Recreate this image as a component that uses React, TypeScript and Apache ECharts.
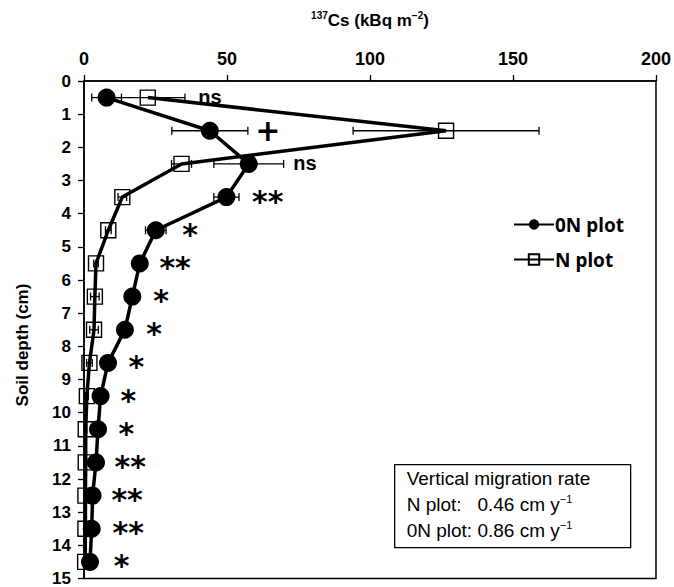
import React, { useEffect, useRef } from "react";
import * as echarts from "echarts";

const depths = [0.5, 1.5, 2.5, 3.5, 4.5, 5.5, 6.5, 7.5, 8.5, 9.5, 10.5, 11.5, 12.5, 13.5, 14.5];
const onValues = [7.9, 44, 57.6, 49.8, 25.1, 19.5, 16.9, 14.3, 8.4, 5.8, 4.9, 4.2, 3.0, 2.7, 2.1];
const onErrors = [5.2, 13.3, 12.2, 4.4, 3.6, 1.2, 1.0, 1.0, 0.8, 0.6, 0.5, 0.5, 0.4, 0.4, 0.3];
const nValues = [22.3, 126.6, 34.1, 13.4, 8.5, 4.2, 3.8, 3.5, 1.9, 1.0, 0.6, 0.6, 0.5, 0.5, 0.4];
const nErrors = [13, 32.5, 3.5, 1.5, 1.0, 0.8, 1.5, 1.5, 1.0, 0.5, 0.4, 0.4, 0.3, 0.3, 0.3];
const sigLabels = ["ns", "+", "ns", "**", "*", "**", "*", "*", "*", "*", "*", "**", "**", "**", "*"];
const sigX = [39.8, 59.7, 73, 58.6, 34.2, 26.2, 24, 21.6, 15.4, 12.6, 11.9, 10.5, 9.4, 9.8, 10.2];
const xTicks = { min: 0, max: 200, interval: 50 };
const yTicks = { min: 0, max: 15, interval: 1 };

const SANS = "'Liberation Sans', Arial, sans-serif";
const DEJAVU = "'DejaVu Sans', sans-serif";

function errorSeries(values: number[], errors: number[]) {
  return {
    type: "custom",
    silent: true,
    z: 1,
    data: depths.map((d, i) => [values[i], d, errors[i]]),
    renderItem: (params: any, api: any) => {
      const x = api.value(0);
      const y = api.value(1);
      const e = api.value(2);
      const p1 = api.coord([x - e, y]);
      const p2 = api.coord([x + e, y]);
      const h = 4;
      const st = { stroke: "#000", lineWidth: 1.3 };
      return {
        type: "group",
        children: [
          { type: "line", shape: { x1: p1[0], y1: p1[1], x2: p2[0], y2: p2[1] }, style: st },
          { type: "line", shape: { x1: p1[0], y1: p1[1] - h, x2: p1[0], y2: p1[1] + h }, style: st },
          { type: "line", shape: { x1: p2[0], y1: p2[1] - h, x2: p2[0], y2: p2[1] + h }, style: st },
        ],
      };
    },
  };
}

function sigClass(t: string) {
  if (t === "ns") return "ns";
  if (t === "+") return "plus";
  return "star";
}

export default function App() {
  const ref = useRef<HTMLDivElement>(null);
  useEffect(() => {
    if (!ref.current) return;
    const chart = echarts.init(ref.current, null, { renderer: "svg" });
    const option: any = {
      animation: false,
      backgroundColor: "#fff",
      grid: {
        left: 84,
        right: 17,
        top: 81,
        bottom: 8,
        show: true,
        borderColor: "#000",
        borderWidth: 1.5,
        backgroundColor: "transparent",
      },
      xAxis: {
        type: "value",
        position: "top",
        min: xTicks.min,
        max: xTicks.max,
        interval: xTicks.interval,
        axisLine: { show: true, lineStyle: { color: "#000", width: 1.5 } },
        axisTick: { show: true, inside: false, length: 6, lineStyle: { color: "#000", width: 1.3 } },
        axisLabel: { color: "#000", fontSize: 18, fontWeight: "bold", fontFamily: SANS, margin: 13 },
        splitLine: { show: false },
      },
      yAxis: {
        type: "value",
        inverse: true,
        min: yTicks.min,
        max: yTicks.max,
        interval: yTicks.interval,
        axisLine: { show: true, lineStyle: { color: "#000", width: 1.5 } },
        axisTick: { show: true, inside: false, length: 6, lineStyle: { color: "#000", width: 1.3 } },
        axisLabel: { color: "#000", fontSize: 17, fontWeight: "bold", fontFamily: SANS, margin: 13 },
        splitLine: { show: false },
      },
      legend: {
        orient: "vertical",
        left: 508,
        top: 210,
        itemGap: 16,
        itemWidth: 40,
        itemHeight: 13,
        textStyle: { color: "#000", fontSize: 19, fontWeight: "bold", fontFamily: "'Noto Sans', sans-serif", padding: [0, 0, 0, -4] },
        data: ["0N plot", "N plot"],
      },
      series: [
        errorSeries(onValues, onErrors),
        errorSeries(nValues, nErrors),
        {
          name: "N plot",
          type: "line",
          z: 3,
          data: depths.map((d, i) => [nValues[i], d]),
          symbol: "rect",
          symbolSize: 15,
          lineStyle: { color: "#000", width: 3.5 },
          itemStyle: { color: "rgba(255,255,255,0)", borderColor: "#000", borderWidth: 1.4 },
        },
        {
          name: "0N plot",
          type: "line",
          z: 4,
          data: depths.map((d, i) => [onValues[i], d]),
          symbol: "circle",
          symbolSize: 18,
          lineStyle: { color: "#000", width: 3.5 },
          itemStyle: { color: "#000" },
        },
        {
          type: "scatter",
          silent: true,
          z: 5,
          symbol: "circle",
          symbolSize: 1,
          itemStyle: { color: "#fff", opacity: 0 },
          label: {
            show: true,
            position: "right",
            distance: 0,
            color: "#000",
            opacity: 1,
            formatter: (p: any) => "{" + sigClass(p.data[2]) + "|" + p.data[2] + "}",
            rich: {
              ns: { fontSize: 20, fontWeight: "bold", fontFamily: SANS, color: "#000", padding: [0, 0, 2, 0] },
              plus: { fontSize: 30, fontWeight: "bold", fontFamily: DEJAVU, color: "#000", padding: [0, 0, 0, 0] },
              star: { fontSize: 30, fontWeight: "bold", fontFamily: DEJAVU, color: "#000", padding: [8, 0, 0, 0] },
            },
          },
          data: depths.map((d, i) => [sigX[i], d, sigLabels[i]]),
        },
      ],
      graphic: [
        {
          type: "text",
          x: 370,
          y: 20,
          style: {
            text: "{sup|137}{b|Cs (kBq m}{sup|−2}{b|)}",
            align: "center",
            verticalAlign: "middle",
            rich: {
              b: { fontSize: 17, fontWeight: "bold", fontFamily: SANS, lineHeight: 20, fill: "#000" },
              sup: { fontSize: 10, fontWeight: "bold", fontFamily: SANS, lineHeight: 20, verticalAlign: "top", fill: "#000" },
            },
          },
        },
        {
          type: "text",
          x: 22,
          y: 345,
          rotation: Math.PI / 2,
          style: {
            text: "Soil depth (cm)",
            align: "center",
            verticalAlign: "middle",
            fontSize: 17,
            fontWeight: "bold",
            fontFamily: SANS,
            fill: "#000",
          },
        },
        {
          type: "group",
          left: 394,
          top: 464,
          children: [
            {
              type: "rect",
              shape: { x: 0, y: 0, width: 236, height: 83 },
              style: { fill: "#fff", stroke: "#000", lineWidth: 1.3 },
            },
            {
              type: "text",
              x: 12,
              y: 14,
              style: { text: "Vertical migration rate", fontSize: 19, fontFamily: SANS, fill: "#000", verticalAlign: "middle" },
            },
            {
              type: "text",
              x: 12,
              y: 40,
              style: {
                text: "{n|N plot:   0.46 cm y}{s|−1}",
                verticalAlign: "middle",
                rich: {
                  n: { fontSize: 19, fontFamily: SANS, fill: "#000", lineHeight: 22 },
                  s: { fontSize: 11, fontFamily: SANS, fill: "#000", lineHeight: 22, verticalAlign: "top" },
                },
              },
            },
            {
              type: "text",
              x: 12,
              y: 66,
              style: {
                text: "{n|0N plot: 0.86 cm y}{s|−1}",
                verticalAlign: "middle",
                rich: {
                  n: { fontSize: 19, fontFamily: SANS, fill: "#000", lineHeight: 22 },
                  s: { fontSize: 11, fontFamily: SANS, fill: "#000", lineHeight: 22, verticalAlign: "top" },
                },
              },
            },
          ],
        },
      ],
    };
    chart.setOption(option);
    return () => chart.dispose();
  }, []);
  return (
    <div
      ref={ref}
      style={{ position: "absolute", left: 0, top: 0, width: 674, height: 587 }}
    />
  );
}
